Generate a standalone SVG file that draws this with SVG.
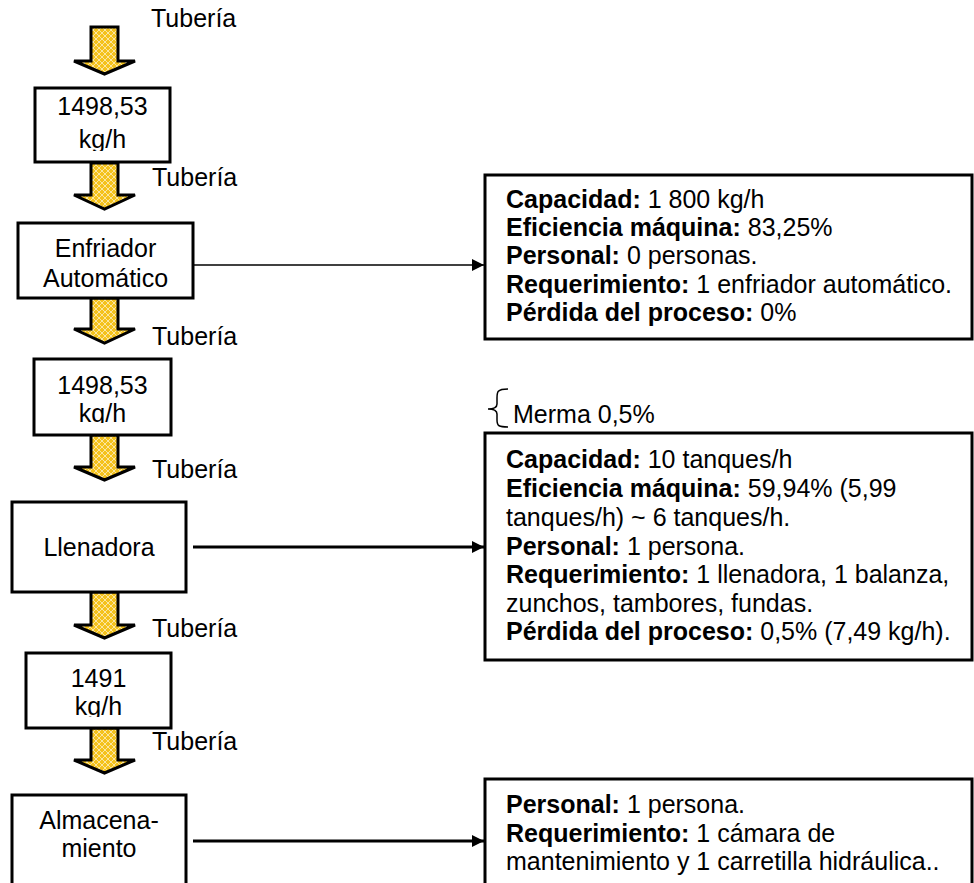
<svg xmlns="http://www.w3.org/2000/svg" width="974" height="883" viewBox="0 0 974 883">
<defs>
<pattern id="pat" width="6" height="6" patternUnits="userSpaceOnUse">
<rect width="6" height="6" fill="#F4C21C"/>
<path d="M0 3 L3 0 L6 3 L3 6 Z" fill="none" stroke="#FBE6A0" stroke-width="1"/>
</pattern>
<marker id="ah" markerWidth="12" markerHeight="12" refX="12" refY="6" orient="auto" markerUnits="userSpaceOnUse">
<path d="M0 0 L12 6 L0 12 Z" fill="#000"/>
</marker>
<clipPath id="c1"><rect x="35" y="88" width="135" height="63"/></clipPath>
<clipPath id="c2"><rect x="34" y="359" width="137" height="64"/></clipPath>
<clipPath id="c3"><rect x="26" y="653" width="145" height="64"/></clipPath>
</defs>
<style>
text{font-family:"Liberation Sans",Arial,Helvetica,sans-serif;font-size:25px;fill:#000}
.c{text-anchor:middle}
.b{font-weight:bold}
.box{fill:#fff;stroke:#000;stroke-width:3}
.arr{fill:url(#pat);stroke:#000;stroke-width:3;stroke-linejoin:miter}
.ln{stroke:#000;fill:none}
</style>
<rect width="974" height="883" fill="#fff"/>

<g id="flow-arrows">
<path class="arr" d="M91 27 H118 V61 H135 L104.5 74 L74 61 H91 Z"/>
<path class="arr" d="M91 163 H118 V195 H135 L104.5 209 L74 195 H91 Z"/>
<path class="arr" d="M91 298 H118 V329 H135 L104.5 343 L74 329 H91 Z"/>
<path class="arr" d="M91 435 H118 V467 H135 L104.5 480 L74 467 H91 Z"/>
<path class="arr" d="M91 592 H118 V625 H135 L104.5 638 L74 625 H91 Z"/>
<path class="arr" d="M91 728 H118 V760 H135 L104.5 773 L74 760 H91 Z"/>
<text x="151" y="27">Tubería</text>
<text x="152" y="186">Tubería</text>
<text x="152" y="345">Tubería</text>
<text x="152" y="478">Tubería</text>
<text x="152" y="637">Tubería</text>
<text x="152" y="750">Tubería</text>
</g>

<g id="flow1">
<rect class="box" x="35" y="88" width="135" height="74"/>
<g clip-path="url(#c1)">
<text class="c" x="102.5" y="115">1498,53</text>
<text class="c" x="102.5" y="148">kg/h</text>
</g>
</g>

<g id="enfriador">
<rect class="box" x="18" y="223" width="175" height="75"/>
<text class="c" x="105.5" y="257">Enfriador</text>
<text class="c" x="105.5" y="287">Automático</text>
</g>

<g id="flow2">
<rect class="box" x="34" y="359" width="137" height="76"/>
<g clip-path="url(#c2)">
<text class="c" x="102.5" y="394">1498,53</text>
<text class="c" x="102.5" y="422">kg/h</text>
</g>
</g>

<g id="llenadora">
<rect class="box" x="12" y="502" width="174" height="90"/>
<text class="c" x="99" y="556">Llenadora</text>
</g>

<g id="flow3">
<rect class="box" x="26" y="653" width="145" height="75"/>
<g clip-path="url(#c3)">
<text class="c" x="98.5" y="687">1491</text>
<text class="c" x="98.5" y="715">kg/h</text>
</g>
</g>

<g id="almacenamiento">
<rect class="box" x="12" y="795" width="174" height="100"/>
<text class="c" x="99" y="829">Almacena-</text>
<text class="c" x="99" y="857">miento</text>
</g>

<g id="info-enfriador">
<rect class="box" x="485" y="175" width="487" height="164"/>
<text x="506" y="208"><tspan class="b">Capacidad:</tspan> 1 800 kg/h</text>
<text x="506" y="236"><tspan class="b">Eficiencia máquina:</tspan> 83,25%</text>
<text x="506" y="264"><tspan class="b">Personal:</tspan> 0 personas.</text>
<text x="506" y="293"><tspan class="b">Requerimiento:</tspan> 1 enfriador automático.</text>
<text x="506" y="321"><tspan class="b">Pérdida del proceso:</tspan> 0%</text>
</g>

<g id="merma">
<path class="ln" stroke-width="1.5" d="M508 389 C497 389 497 392 497 398 L497 404 C497 408 494 409 488 409 C494 409 497 410 497 414 L497 420 C497 426 499 427 508 427"/>
<text x="513" y="423">Merma 0,5%</text>
</g>

<g id="info-llenadora">
<rect class="box" x="485" y="433" width="487" height="227"/>
<text x="506" y="468"><tspan class="b">Capacidad:</tspan> 10 tanques/h</text>
<text x="506" y="497"><tspan class="b">Eficiencia máquina:</tspan> 59,94% (5,99</text>
<text x="506" y="526">tanques/h) ~ 6 tanques/h.</text>
<text x="506" y="555"><tspan class="b">Personal:</tspan> 1 persona.</text>
<text x="506" y="583"><tspan class="b">Requerimiento:</tspan> 1 llenadora, 1 balanza,</text>
<text x="506" y="612">zunchos, tambores, fundas.</text>
<text x="506" y="640"><tspan class="b">Pérdida del proceso:</tspan> 0,5% (7,49 kg/h).</text>
</g>

<g id="info-almacenamiento">
<rect class="box" x="485" y="779" width="487" height="120"/>
<text x="506" y="813"><tspan class="b">Personal:</tspan> 1 persona.</text>
<text x="506" y="842"><tspan class="b">Requerimiento:</tspan> 1 cámara de</text>
<text x="506" y="870">mantenimiento y 1 carretilla hidráulica..</text>
</g>

<g id="connectors">
<line class="ln" stroke-width="1.5" x1="193" y1="265" x2="484" y2="265" marker-end="url(#ah)"/>
<line class="ln" stroke-width="3" x1="193" y1="547" x2="484" y2="547" marker-end="url(#ah)"/>
<line class="ln" stroke-width="3" x1="193" y1="841" x2="484" y2="841" marker-end="url(#ah)"/>
</g>
</svg>
